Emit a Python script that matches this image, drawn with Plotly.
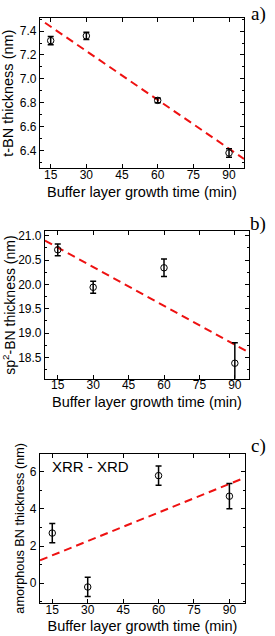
import plotly.graph_objects as go

growth_time = [15, 30, 60, 90]

tbn_thick = [7.32, 7.36, 6.82, 6.38]
tbn_err = [0.035, 0.03, 0.02, 0.035]
tbn_fit_x = [12.6, 96.3]
tbn_fit_y = [7.47, 6.33]

sp2_thick = [20.71, 19.94, 20.34, 18.38]
sp2_err = [0.12, 0.125, 0.18, 0.42]
sp2_fit_x = [9.6, 96.0]
sp2_fit_y = [20.90, 18.60]

amo_thick = [2.70, -0.21, 5.80, 4.69]
amo_err = [0.52, 0.52, 0.52, 0.68]
amo_fit_x = [9.8, 96.6]
amo_fit_y = [1.23, 5.69]

x_ticks = [15, 30, 45, 60, 75, 90]
y_titles = ["t-BN thickness (nm)", "sp<sup>2</sup>-BN thickness (nm)", "amorphous BN thickness (nm)"]
panel_labels = ["a)", "b)", "c)"]

W, H = 275, 636
FONT = "Liberation Sans, Arial, sans-serif"

panels = [
    dict(y=tbn_thick, e=tbn_err, fx=tbn_fit_x, fy=tbn_fit_y, yts=14.5, ly=12,
         px=(40, 244), py=(16, 167), xr=[10.5, 96.3], yr=[6.25, 7.51], dt=0.2, minor=0.1),
    dict(y=sp2_thick, e=sp2_err, fx=sp2_fit_x, fy=sp2_fit_y, yts=14, ly=223,
         px=(45, 249), py=(230, 378), xr=[9.6, 96.0], yr=[18.06, 21.09], dt=0.5, minor=0.25),
    dict(y=amo_thick, e=amo_err, fx=amo_fit_x, fy=amo_fit_y, yts=12.7, ly=445,
         px=(40, 245), py=(453, 603), xr=[9.8, 96.6], yr=[-1.08, 6.99], dt=2, minor=1),
]

fig = go.Figure()
layout = dict(
    width=W, height=H, margin=dict(l=0, r=0, t=0, b=0),
    paper_bgcolor="white", plot_bgcolor="white", showlegend=False,
    font=dict(family=FONT, color="black"),
)
annotations = []
for i, p in enumerate(panels):
    n = "" if i == 0 else str(i + 1)
    xa, ya = "x" + n, "y" + n
    fig.add_trace(go.Scatter(
        x=p["fx"], y=p["fy"], mode="lines", xaxis=xa, yaxis=ya,
        line=dict(color="#ee1111", width=2, dash="8px,5px"), hoverinfo="skip"))
    fig.add_trace(go.Scatter(
        x=growth_time, y=p["y"], mode="markers", xaxis=xa, yaxis=ya,
        marker=dict(symbol="circle-open", size=6.5, color="black", line=dict(width=1)),
        error_y=dict(type="data", array=p["e"], color="black", thickness=1.5, width=3)))
    xd = [p["px"][0] / W, p["px"][1] / W]
    yd = [1 - p["py"][1] / H, 1 - p["py"][0] / H]
    common = dict(showgrid=False, zeroline=False, showline=True, linecolor="black",
                  linewidth=1.2, mirror="ticks", ticks="inside", ticklen=4,
                  tickcolor="black", tickfont=dict(size=12, family=FONT))
    layout["xaxis" + n] = dict(domain=xd, range=p["xr"], anchor=ya, tickvals=x_ticks,
                               ticklabelstandoff=-5,
                               title=dict(text="Buffer layer growth time (min)",
                                          font=dict(size=14.5, family=FONT), standoff=5),
                               **common)
    layout["yaxis" + n] = dict(domain=yd, range=p["yr"], anchor=xa, dtick=p["dt"],
                               tickformat=".1f" if i < 2 else "d",
                               minor=dict(ticks="inside", ticklen=2, dtick=p["minor"],
                                          tickcolor="black"),
                               title=dict(text=y_titles[i], font=dict(size=p["yts"], family=FONT),
                                          standoff=2),
                               **common)
    annotations.append(dict(text=panel_labels[i], xref="paper", yref="paper",
                            x=268 / W, y=1 - p["ly"] / H, xanchor="right",
                            yanchor="middle", showarrow=False,
                            font=dict(size=19, family="Liberation Serif, Times New Roman, serif")))

annotations.append(dict(text="XRR - XRD", xref="x3", yref="paper", x=14, xanchor="left",
                        y=1 - 466 / H, yanchor="middle", showarrow=False,
                        font=dict(size=15, family=FONT)))
layout["annotations"] = annotations
fig.update_layout(**layout)
fig.write_html("out.html", config={"displayModeBar": False},
               post_script="document.body.style.margin='0';document.body.style.overflow='hidden';")
